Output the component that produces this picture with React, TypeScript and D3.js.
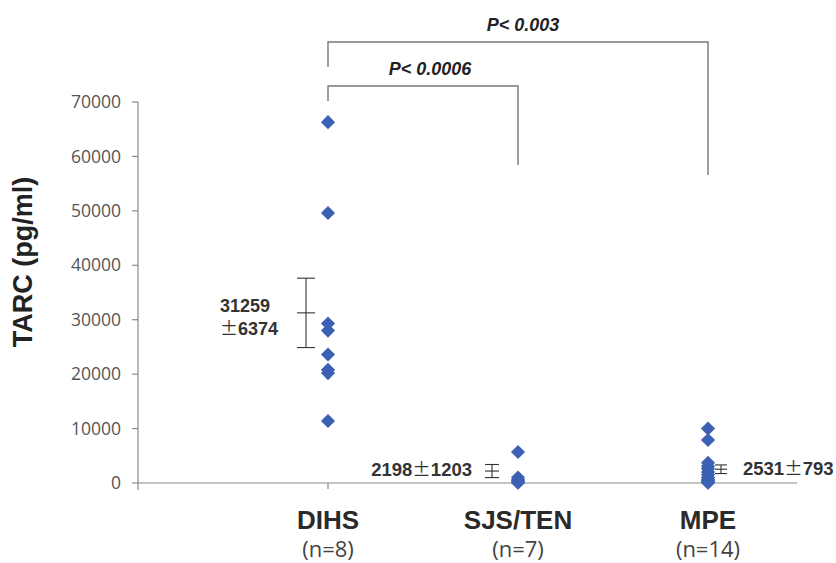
import React from "react";
import { scaleLinear, scalePoint, symbol, symbolSquare } from "d3";

const categories = ["DIHS", "SJS/TEN", "MPE"];
const groupSizes = ["(n=8)", "(n=7)", "(n=14)"];
const dihsValues = [66300, 49600, 29300, 28000, 23600, 20800, 20200, 11400];
const sjsValues = [5700, 1000, 600, 400, 200, 100, 50];
const mpeValues = [10000, 7900, 3700, 3100, 2600, 2000, 1500, 1000, 700, 500, 300, 200, 100, 50];
const means = [31259, 2198, 2531];
const errors = [6374, 1203, 793];
const yTicks = [0, 10000, 20000, 30000, 40000, 50000, 60000, 70000];
const comparisons = [
  { from: "DIHS", to: "MPE", label: "P< 0.003" },
  { from: "DIHS", to: "SJS/TEN", label: "P< 0.0006" },
];

const W = 836;
const H = 563;
const axisColor = "#8a8a8a";
const dotColor = "#3c61b4";
const pmFont = "'Noto Sans CJK JP', sans-serif";

function App() {
  const x = scalePoint<string>().domain(categories).range([328, 708]);
  const y = scaleLinear().domain([0, 70000]).range([483, 102]);
  const diamond = symbol().type(symbolSquare).size(100)() as string;

  const groups = [dihsValues, sjsValues, mpeValues];
  // error bar offset from the column + half cap width, per group
  const barPlace = [
    { dx: -22, cap: 9 },
    { dx: -26, cap: 7 },
    { dx: 13, cap: 6 },
  ];
  const bracketTop = [42, 86];
  const bracketLegs = [
    [67, 175],
    [101, 165],
  ];

  const pm = <tspan fontFamily={pmFont} fontWeight="normal">{"\u00b1"}</tspan>;

  return (
    <div style={{ position: "absolute", left: 0, top: 0 }}>
      <svg width={W} height={H} style={{ display: "block", background: "#fff" }}>
        {/* y axis */}
        <line x1={138} x2={138} y1={y(70000)} y2={490} stroke={axisColor} strokeWidth={1.2} />
        {yTicks.map((t) => (
          <g key={t}>
            <line x1={132} x2={138} y1={y(t)} y2={y(t)} stroke={axisColor} strokeWidth={1.2} />
            <text
              x={121}
              y={y(t)}
              dy="0.35em"
              textAnchor="end"
              fontFamily="'Open Sans', sans-serif"
              fontSize={17.5}
              fill="#555"
            >
              {t}
            </text>
          </g>
        ))}
        <text
          transform={`translate(32,262) rotate(-90)`}
          textAnchor="middle"
          fontFamily="'Liberation Sans', Arial, sans-serif"
          fontWeight="bold"
          fontSize={27}
          fill="#222"
        >
          TARC (pg/ml)
        </text>

        {/* x axis */}
        <line x1={138} x2={797} y1={483} y2={483} stroke={axisColor} strokeWidth={1.2} />
        {categories.map((c, i) => (
          <g key={c}>
            <line x1={x(c)} x2={x(c)} y1={483} y2={489} stroke={axisColor} strokeWidth={1.2} />
            <text
              x={x(c)}
              y={529}
              textAnchor="middle"
              fontFamily="'Liberation Sans', Arial, sans-serif"
              fontWeight="bold"
              fontSize={26}
              fill="#2a2a2a"
            >
              {c}
            </text>
            <text
              x={x(c)}
              y={557}
              textAnchor="middle"
              fontFamily="'Open Sans', sans-serif"
              fontSize={22}
              fill="#444"
            >
              {groupSizes[i]}
            </text>
          </g>
        ))}

        {/* points */}
        {groups.map((vals, i) =>
          vals.map((v, j) => (
            <path
              key={`${i}-${j}`}
              d={diamond}
              transform={`translate(${x(categories[i])},${y(v)}) rotate(45)`}
              fill={dotColor}
            />
          ))
        )}

        {/* mean +- SE bars */}
        {categories.map((c, i) => {
          const bx = (x(c) as number) + barPlace[i].dx;
          const w = barPlace[i].cap;
          const ys = [means[i] + errors[i], means[i], means[i] - errors[i]];
          return (
            <g key={c} stroke="#333" strokeWidth={1.1}>
              <line x1={bx} x2={bx} y1={y(ys[0])} y2={y(ys[2])} />
              {ys.map((v, k) => (
                <line key={k} x1={bx - w} x2={bx + w} y1={y(v)} y2={y(v)} />
              ))}
            </g>
          );
        })}

        <g fontFamily="'Liberation Sans', Arial, sans-serif" fontWeight="bold" fill="#333">
          <text x={220} y={312} fontSize={18}>
            {means[0]}
          </text>
          <text x={220} y={335} fontSize={18}>
            {pm}
            {errors[0]}
          </text>
          <text x={472} y={476} fontSize={18.5} textAnchor="end">
            {means[1]}
            {pm}
            {errors[1]}
          </text>
          <text x={743} y={475} fontSize={18.5}>
            {means[2]}
            {pm}
            {errors[2]}
          </text>
        </g>

        {/* significance brackets */}
        {comparisons.map((cmp, i) => {
          const x1 = x(cmp.from) as number;
          const x2 = x(cmp.to) as number;
          const top = bracketTop[i];
          return (
            <g key={cmp.label}>
              <path
                d={`M${x1},${bracketLegs[i][0]}V${top}H${x2}V${bracketLegs[i][1]}`}
                fill="none"
                stroke="#777"
                strokeWidth={1.4}
              />
              <text
                x={i === 0 ? 523 : 430}
                y={top - 11}
                textAnchor="middle"
                fontFamily="'Liberation Sans', Arial, sans-serif"
                fontWeight="bold"
                fontStyle="italic"
                fontSize={18}
                fill="#222"
              >
                {cmp.label}
              </text>
            </g>
          );
        })}
      </svg>
    </div>
  );
}

export default App;
